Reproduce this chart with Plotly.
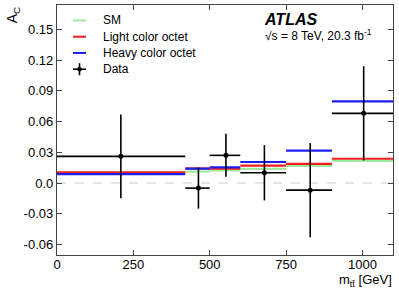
import plotly.graph_objects as go

# Bin edges in m_tt [GeV]
bin_lo = [0, 420, 500, 600, 750, 900]
bin_hi = [420, 500, 600, 750, 900, 1100]

# Data
data_x = [209, 463, 553, 679, 829, 1004]
data_y = [0.026, -0.005, 0.027, 0.010, -0.007, 0.068]
data_err = [0.041, 0.020, 0.021, 0.027, 0.046, 0.046]

# Model predictions per bin
sm_y = [0.0090, 0.0112, 0.0123, 0.0137, 0.0166, 0.0215]
light_y = [0.0104, 0.0142, 0.0140, 0.0169, 0.0186, 0.0237]
heavy_y = [0.0086, 0.0140, 0.0153, 0.0205, 0.0316, 0.0797]

x_ticks = [0, 250, 500, 750, 1000]
y_ticks = [-0.06, -0.03, 0.0, 0.03, 0.06, 0.09, 0.12, 0.15]
y_ticklabels = ["-0.06", "-0.03", "0.0", "0.03", "0.06", "0.09", "0.12", "0.15"]

FONT = "Liberation Sans, Arial, Helvetica, sans-serif"


def steps(vals):
    xs, ys = [], []
    for lo, hi, v in zip(bin_lo, bin_hi, vals):
        xs += [lo, hi, None]
        ys += [v, v, None]
    return xs, ys


fig = go.Figure()

for vals, col in [(sm_y, "#9fe89f"), (light_y, "#f01e1e"), (heavy_y, "#1e1ef0")]:
    xs, ys = steps(vals)
    fig.add_trace(go.Scatter(x=xs, y=ys, mode="lines",
                             line=dict(color=col, width=2.2),
                             showlegend=False, hoverinfo="skip"))

# Data with horizontal bin-width bars and vertical error bars
ex_plus = [hi - x for hi, x in zip(bin_hi, data_x)]
ex_minus = [x - lo for lo, x in zip(bin_lo, data_x)]
fig.add_trace(go.Scatter(
    x=data_x, y=data_y, mode="markers",
    marker=dict(color="black", size=5),
    error_y=dict(type="data", array=data_err, color="black", thickness=1.6, width=0),
    error_x=dict(type="data", array=ex_plus, arrayminus=ex_minus, symmetric=False,
                 color="black", thickness=1.6, width=0),
    showlegend=False))

shapes = [
    dict(type="line", xref="paper", yref="y", x0=0, x1=1, y0=0, y1=0,
         line=dict(color="#cccccc", width=1, dash="dash"), layer="below"),
]

# Legend (drawn manually)
leg_items = [("SM", "#9fe89f"), ("Light color octet", "#f01e1e"),
             ("Heavy color octet", "#1e1ef0"), ("Data", "black")]
annotations = []
leg_y0 = 20
for i, (name, col) in enumerate(leg_items):
    yy = leg_y0 + i * 16.3
    yp = 1 - (yy - 4.5) / (255.3 - 4.5)
    x0p = (73 - 57) / 336
    x1p = (86 - 57) / 336
    shapes.append(dict(type="line", xref="paper", yref="paper", x0=x0p, x1=x1p,
                       y0=yp, y1=yp, line=dict(color=col, width=2 if name != "Data" else 1.6)))
    if name == "Data":
        xm = (x0p + x1p) / 2
        dy = 6 / 250.8
        shapes.append(dict(type="line", xref="paper", yref="paper", x0=xm, x1=xm,
                           y0=yp - dy, y1=yp + dy, line=dict(color="black", width=1.6)))
        r = 2.3 / 336
        ry = 2.3 / 250.8
        shapes.append(dict(type="circle", xref="paper", yref="paper",
                           x0=xm - r, x1=xm + r, y0=yp - ry, y1=yp + ry,
                           fillcolor="black", line=dict(color="black", width=0)))
    annotations.append(dict(xref="paper", yref="paper", x=(101 - 57) / 336, y=yp,
                            xanchor="left", yanchor="middle", text=name, showarrow=False,
                            font=dict(family=FONT, size=12, color="black")))

annotations += [
    dict(xref="paper", yref="paper", x=(262 - 57) / 336, y=1 - (19 - 4.5) / 250.8,
         xanchor="left", yanchor="middle", text="<b><i>ATLAS</i></b>", showarrow=False,
         font=dict(family=FONT, size=16, color="black")),
    dict(xref="paper", yref="paper", x=(263 - 57) / 336, y=1 - (35 - 4.5) / 250.8,
         xanchor="left", yanchor="middle", text="√s = 8 TeV, 20.3 fb<sup>-1</sup>",
         showarrow=False, font=dict(family=FONT, size=12, color="black")),
    dict(xref="paper", yref="paper", x=1.003, y=-(281 - 255.3) / 250.8,
         xanchor="right", yanchor="middle",
         text="m<sub>tt\u0304</sub> [GeV]", showarrow=False,
         font=dict(family=FONT, size=13, color="black")),
    dict(xref="paper", yref="paper", x=-0.13, y=1.0, xanchor="center", yanchor="top",
         text="A<sub>C</sub>", textangle=-90, showarrow=False,
         font=dict(family=FONT, size=14, color="black")),
]

fig.update_layout(
    width=399, height=291,
    margin=dict(l=57, r=6, t=4.5, b=35.7),
    paper_bgcolor="white", plot_bgcolor="white",
    shapes=shapes, annotations=annotations,
    font=dict(family=FONT, size=13, color="black"),
    xaxis=dict(range=[0, 1100], tickvals=x_ticks, ticks="inside", ticklen=5,
               tickcolor="#444", showline=True, linecolor="#444", linewidth=1.3,
               mirror="ticks", showgrid=False, zeroline=False, ticklabelstandoff=-3,
               tickfont=dict(family=FONT, size=13, color="black")),
    yaxis=dict(range=[-0.0703, 0.1738], tickvals=y_ticks, ticktext=y_ticklabels,
               ticks="inside", ticklen=5, tickcolor="#444", showline=True,
               linecolor="#444", linewidth=1.3, mirror="ticks", showgrid=False,
               zeroline=False, tickfont=dict(family=FONT, size=13, color="black")),
)

fig.write_html("out.html", config={"displayModeBar": False},
               post_script="document.body.style.margin='0';document.body.style.overflow='hidden';")
